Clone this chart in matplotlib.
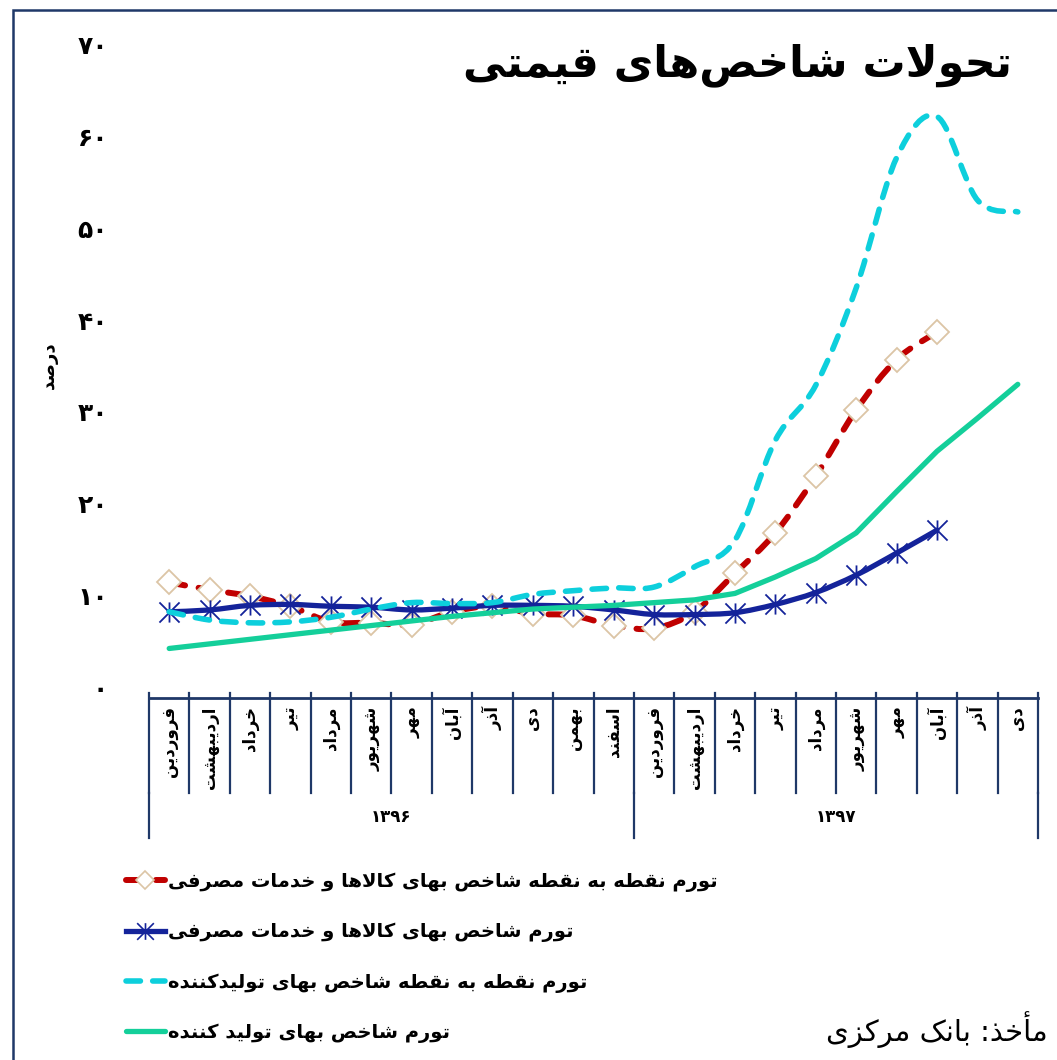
import numpy as np
import matplotlib
matplotlib.use('Agg')
import matplotlib.pyplot as plt
from matplotlib.path import Path
from matplotlib.patches import PathPatch, Rectangle
from matplotlib.lines import Line2D
import matplotlib.transforms as mtransforms

plt.rcParams['font.family'] = ['DejaVu Sans']

# ---------------- data ----------------
months_1396 = ['فروردین', 'اردیبهشت', 'خرداد', 'تیر', 'مرداد', 'شهریور',
               'مهر', 'آبان', 'آذر', 'دی', 'بهمن', 'اسفند']
months_1397 = ['فروردین', 'اردیبهشت', 'خرداد', 'تیر', 'مرداد', 'شهریور',
               'مهر', 'آبان', 'آذر', 'دی']
years = ['۱۳۹۶', '۱۳۹۷']
yticks = [0, 10, 20, 30, 40, 50, 60, 70]
ytick_labels = ['۰', '۱۰', '۲۰', '۳۰', '۴۰', '۵۰', '۶۰', '۷۰']

cpi_p2p = [12.6, 11.8, 11.1, 10.0, 8.3, 8.2, 8.0, 9.4, 10.0, 9.2, 9.0, 7.9,
           7.6, 9.4, 13.6, 18.0, 24.2, 31.4, 36.9, 39.9]
cpi_12m = [9.4, 9.6, 10.1, 10.2, 10.0, 9.9, 9.6, 9.8, 10.1, 10.1, 10.0, 9.6,
           9.1, 9.1, 9.3, 10.2, 11.5, 13.4, 15.8, 18.3]
ppi_p2p = [9.4, 8.5, 8.2, 8.3, 8.8, 9.7, 10.4, 10.3, 10.4, 11.3, 11.7, 12.0,
           12.1, 14.3, 17.2, 28.1, 34.1, 44.7, 58.9, 63.4, 54.3, 53.0]
ppi_12m = [5.4, 5.9, 6.4, 6.9, 7.4, 7.9, 8.4, 8.9, 9.3, 9.7, 9.9, 10.1,
           10.4, 10.7, 11.4, 13.2, 15.2, 18.0, 22.5, 26.9, 30.5, 34.2]

series_names = ['تورم نقطه به نقطه شاخص بهای کالاها و خدمات مصرفی',
                'تورم شاخص بهای کالاها و خدمات مصرفی',
                'تورم نقطه به نقطه شاخص بهای تولیدکننده',
                'تورم شاخص بهای تولید کننده']
title = 'تحولات شاخص\u200cهای قیمتی'
ylabel = 'درصد'
source = 'مأخذ: بانک مرکزی'

# ---------------- Persian shaping (presentation forms + visual order) ----------------
_FORMS = {
    'ا': ('\uFE8D', '\uFE8E', None, None),
    'آ': ('\uFE81', '\uFE82', None, None),
    'أ': ('\uFE83', '\uFE84', None, None),
    'ب': ('\uFE8F', '\uFE90', '\uFE91', '\uFE92'),
    'ت': ('\uFE95', '\uFE96', '\uFE97', '\uFE98'),
    'ح': ('\uFEA1', '\uFEA2', '\uFEA3', '\uFEA4'),
    'خ': ('\uFEA5', '\uFEA6', '\uFEA7', '\uFEA8'),
    'د': ('\uFEA9', '\uFEAA', None, None),
    'ذ': ('\uFEAB', '\uFEAC', None, None),
    'ر': ('\uFEAD', '\uFEAE', None, None),
    'ز': ('\uFEAF', '\uFEB0', None, None),
    'س': ('\uFEB1', '\uFEB2', '\uFEB3', '\uFEB4'),
    'ش': ('\uFEB5', '\uFEB6', '\uFEB7', '\uFEB8'),
    'ص': ('\uFEB9', '\uFEBA', '\uFEBB', '\uFEBC'),
    'ط': ('\uFEC1', '\uFEC2', '\uFEC3', '\uFEC4'),
    'ف': ('\uFED1', '\uFED2', '\uFED3', '\uFED4'),
    'ق': ('\uFED5', '\uFED6', '\uFED7', '\uFED8'),
    'ل': ('\uFEDD', '\uFEDE', '\uFEDF', '\uFEE0'),
    'م': ('\uFEE1', '\uFEE2', '\uFEE3', '\uFEE4'),
    'ن': ('\uFEE5', '\uFEE6', '\uFEE7', '\uFEE8'),
    'ه': ('\uFEE9', '\uFEEA', '\uFEEB', '\uFEEC'),
    'و': ('\uFEED', '\uFEEE', None, None),
    'ی': ('\uFBFC', '\uFBFD', '\uFBFE', '\uFBFF'),
    'ک': ('\uFB8E', '\uFB8F', '\uFB90', '\uFB91'),
}
_LAMALEF = {'ا': ('\uFEFB', '\uFEFC'), 'آ': ('\uFEF5', '\uFEF6'), 'أ': ('\uFEF7', '\uFEF8')}
_DUAL = set('بتحخسشصطفقلمنهیک')
_RIGHT = set('اآأدذرزو')


def shape(s):
    chars = list(s)
    n = len(chars)
    out = []
    i = 0
    while i < n:
        c = chars[i]
        prev = chars[i - 1] if i > 0 else ''
        jp = (prev in _DUAL) and (c in _DUAL or c in _RIGHT)
        if c == 'ل' and i + 1 < n and chars[i + 1] in _LAMALEF:
            iso, fin = _LAMALEF[chars[i + 1]]
            out.append(fin if jp else iso)
            i += 2
            continue
        if c in _FORMS:
            nxt = chars[i + 1] if i + 1 < n else ''
            jn = (c in _DUAL) and (nxt in _DUAL or nxt in _RIGHT)
            iso, fin, ini, med = _FORMS[c]
            if jp and jn:
                g = med
            elif jp:
                g = fin
            elif jn:
                g = ini
            else:
                g = iso
            out.append(g)
        elif c == '\u200c':
            pass
        else:
            out.append(c)
        i += 1
    vis = out[::-1]
    res, run = [], []
    for g in vis:
        if g.isdigit():
            run.append(g)
        else:
            if run:
                res.extend(run[::-1])
                run = []
            res.append(g)
    if run:
        res.extend(run[::-1])
    return ''.join(res)


# ---------------- styles ----------------
RED = '#C00000'
TAN = '#DCC5A5'
BLUE = '#14239A'
CYAN = '#0DCFDC'
GREEN = '#14CF9A'
NAVY = '#1F3868'

W, H = 1057, 1060
fig = plt.figure(figsize=(W / 100, H / 100), dpi=100)


def fx(px):
    return px / W


def fy(py):
    return 1 - py / H


ax_left, ax_right, ax_top, ax_bottom = 149, 1038, 56, 698
ax = fig.add_axes([fx(ax_left), fy(ax_bottom), (ax_right - ax_left) / W, (ax_bottom - ax_top) / H])

months = months_1396 + months_1397
n_cat = len(months)
x_all = np.arange(n_cat)


def smooth_path(xs, ys):
    pts = np.column_stack([xs, ys]).astype(float)
    n = len(pts)
    verts = [pts[0]]
    codes = [Path.MOVETO]
    for i in range(n - 1):
        p0 = pts[i - 1] if i > 0 else pts[i]
        p1 = pts[i]
        p2 = pts[i + 1]
        p3 = pts[i + 2] if i + 2 < n else pts[i + 1]
        c1 = p1 + (p2 - p0) / 6.0
        c2 = p2 - (p3 - p1) / 6.0
        verts += [c1, c2, p2]
        codes += [Path.CURVE4] * 3
    return Path(verts, codes)


star = Path([(0, -1), (0, 1), (-1, -1), (1, 1), (-1, 1), (1, -1)],
            [Path.MOVETO, Path.LINETO, Path.MOVETO, Path.LINETO, Path.MOVETO, Path.LINETO])

# red: point-to-point CPI
xr = x_all[:len(cpi_p2p)]
p = PathPatch(smooth_path(xr, cpi_p2p), fill=False, edgecolor=RED, linewidth=4.3,
              linestyle=(0, (2.7, 2.3)), capstyle='round', joinstyle='round', zorder=3)
ax.add_patch(p)
ax.plot(xr, cpi_p2p, linestyle='none', marker='D', ms=12, mfc='white', mec=TAN, mew=1.3, zorder=3.1)

# blue: 12-month CPI
xb = x_all[:len(cpi_12m)]
p = PathPatch(smooth_path(xb, cpi_12m), fill=False, edgecolor=BLUE, linewidth=3.8,
              capstyle='round', joinstyle='round', zorder=4)
ax.add_patch(p)
ax.plot(xb, cpi_12m, linestyle='none', marker=star, ms=14.5, mfc='none', mec=BLUE, mew=1.3, zorder=4.1)

# cyan: point-to-point PPI
xc = x_all[:len(ppi_p2p)]
p = PathPatch(smooth_path(xc, ppi_p2p), fill=False, edgecolor=CYAN, linewidth=4.0,
              linestyle=(0, (2.6, 2.2)), capstyle='round', joinstyle='round', zorder=5)
ax.add_patch(p)

# green: 12-month PPI
xg = x_all[:len(ppi_12m)]
ax.plot(xg, ppi_12m, color=GREEN, lw=3.8, solid_capstyle='round', solid_joinstyle='round', zorder=6)

ax.set_xlim(-0.5, n_cat - 0.5)
ax.set_ylim(0, 70)
for s in ['top', 'left', 'right']:
    ax.spines[s].set_visible(False)
ax.spines['bottom'].set_color(NAVY)
ax.spines['bottom'].set_linewidth(2.0)
ax.patch.set_alpha(0)

ax.set_yticks(yticks)
ax.set_yticklabels([shape(t) for t in ytick_labels], fontsize=18, fontweight='bold')
ax.tick_params(axis='y', length=0, pad=29.5)
off = mtransforms.ScaledTranslation(0, 11 / 100, fig.dpi_scale_trans)
for lab in ax.get_yticklabels():
    lab.set_transform(lab.get_transform() + off)

ax.set_xticks(x_all)
ax.set_xticklabels([shape(m) for m in months], rotation=90, fontsize=12, fontweight='bold')
ax.tick_params(axis='x', length=0, pad=6)

ax.set_ylabel(shape(ylabel), fontsize=13, fontweight='bold', rotation=90)
ax.yaxis.set_label_coords((58 - ax_left) / (ax_right - ax_left), (ax_bottom - 365) / (ax_bottom - ax_top))

# multi-level category axis lines
trans = mtransforms.blended_transform_factory(ax.transData, ax.transAxes)
ah = ax_bottom - ax_top
tick_top = 5 / ah
tick_bot = -(793 - ax_bottom) / ah
grp_bot = -(838 - ax_bottom) / ah
for b in np.arange(n_cat + 1) - 0.5:
    ax.plot([b, b], [tick_top, tick_bot], transform=trans, color=NAVY, lw=1.6, clip_on=False, zorder=2)
counts = [len(months_1396), len(months_1397)]
edges = np.concatenate([[0], np.cumsum(counts)]) - 0.5
for b in edges:
    ax.plot([b, b], [tick_bot, grp_bot], transform=trans, color=NAVY, lw=1.6, clip_on=False, zorder=2)
for k, yr in enumerate(years):
    cx = (edges[k] + edges[k + 1]) / 2
    ax.text(cx, -(817 - ax_bottom) / ah, shape(yr), transform=trans, ha='center', va='center',
            fontsize=12, fontweight='bold')

# title and source
fig.text(fx(1012), fy(65), shape(title), ha='right', va='center', fontsize=31, fontweight='bold')
fig.text(fx(1048), fy(1030), shape(source), ha='right', va='center', fontsize=21)

# legend
handles = [
    Line2D([], [], color=RED, lw=4.3, dashes=(2.7, 2.3), dash_capstyle='round', marker='D', ms=9,
           mfc='white', mec=TAN, mew=1.2),
    Line2D([], [], color=BLUE, lw=3.8, marker=star, ms=12, mfc='none', mec=BLUE, mew=1.2),
    Line2D([], [], color=CYAN, lw=4.0, dashes=(2.6, 2.2), dash_capstyle='round'),
    Line2D([], [], color=GREEN, lw=3.8, solid_capstyle='round'),
]
fig.legend(handles, [shape(s) for s in series_names], loc='upper left',
           bbox_to_anchor=(fx(126), fy(872)), frameon=False, borderpad=0, borderaxespad=0,
           prop={'size': 14, 'weight': 'bold'}, handlelength=2.0, handletextpad=0.15,
           labelspacing=1.56)

# outer border (left/top visible)
fig.add_artist(Rectangle((fx(13), fy(1100)), fx(1100), (1100 - 10) / H, transform=fig.transFigure,
                         fill=False, edgecolor=NAVY, lw=1.8))

fig.savefig('out.png', dpi=100)
